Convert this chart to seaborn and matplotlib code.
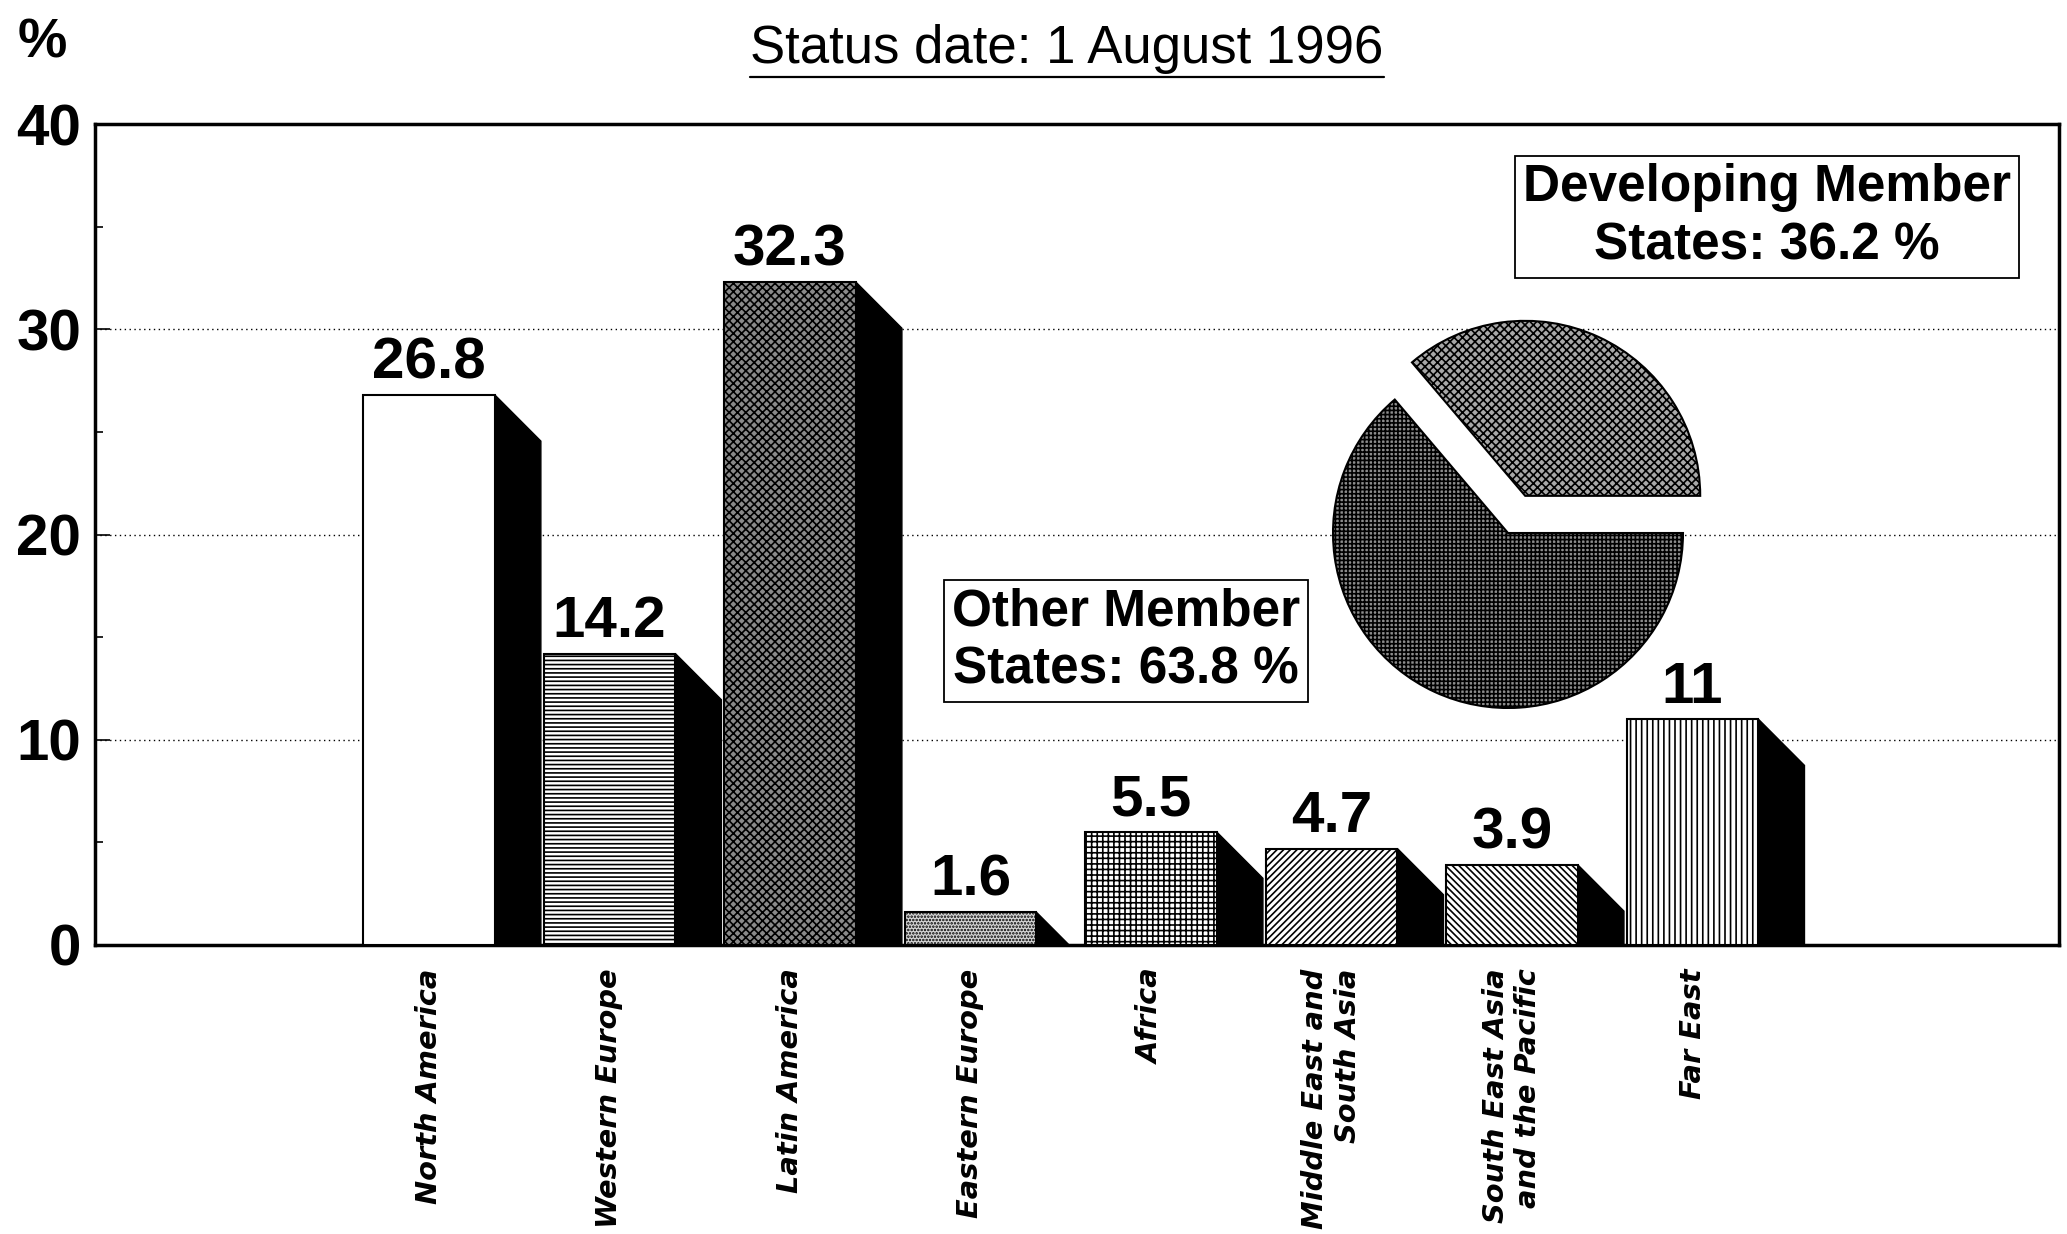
import numpy as np
import pandas as pd
import seaborn as sns
import matplotlib
matplotlib.use("Agg")
import matplotlib.pyplot as plt
from matplotlib.patches import Polygon
from matplotlib.lines import Line2D

# ---------------- data ----------------
regions = ["North America", "Western Europe", "Latin America", "Eastern Europe",
           "Africa", "Middle East and\nSouth Asia", "South East Asia\nand the Pacific",
           "Far East"]
shares = [26.8, 14.2, 32.3, 1.6, 5.5, 4.7, 3.9, 11]
value_labels = ["26.8", "14.2", "32.3", "1.6", "5.5", "4.7", "3.9", "11"]
pie_shares = [36.2, 63.8]
pie_labels = ["Developing Member\nStates: 36.2 %", "Other Member\nStates: 63.8 %"]
yticks = [0, 10, 20, 30, 40]
yminor = [5, 15, 25, 35]
title = "Status date: 1 August 1996"
unit_label = "%"

# ---------------- style ----------------
sns.set_theme(style="white")
plt.rcParams["font.family"] = ["Liberation Sans", "DejaVu Sans"]
plt.rcParams["hatch.linewidth"] = 1.2
plt.rcParams["text.color"] = "black"
plt.rcParams["axes.labelcolor"] = "black"
plt.rcParams["xtick.color"] = "black"
plt.rcParams["ytick.color"] = "black"

bar_faces = ["white", "white", "#8a8a8a", "#d6d6d6", "white", "white", "white", "white"]
bar_hatches = [None, "----", "xxxx", ".....", "+++", "/////", "\\\\\\\\\\", "|||"]
pie_faces = ["#a8a8a8", "#8c8c8c"]
pie_hatches = ["xxxx", "++++"]

W, H = 2067, 1234
fig = plt.figure(figsize=(W / 100, H / 100), dpi=100)
fig.patch.set_facecolor("white")

ax_l, ax_r, ax_t, ax_b = 95, 2059, 124, 945
ax = fig.add_axes([ax_l / W, 1 - ax_b / H, (ax_r - ax_l) / W, (ax_b - ax_t) / H])

df = pd.DataFrame({"region": regions, "share": shares})
sns.barplot(data=df, x="region", y="share", ax=ax, width=0.73, color="white",
            saturation=1, edgecolor="black", linewidth=1.5, zorder=3)

dx, dy = 0.255, 2.25
for p, fc, h_, lab in zip(ax.patches, bar_faces, bar_hatches, value_labels):
    p.set_facecolor(fc)
    p.set_edgecolor("black")
    if h_:
        p.set_hatch(h_)
    x1 = p.get_x() + p.get_width()
    h = p.get_height()
    if h > dy:
        pts = [(x1, h), (x1 + dx, h - dy), (x1 + dx, 0), (x1, 0)]
    else:
        pts = [(x1, h), (x1 + dx * h / dy, 0), (x1, 0)]
    ax.add_patch(Polygon(pts, closed=True, facecolor="black", edgecolor="black",
                         linewidth=1, zorder=2))
    ax.annotate(lab, (p.get_x() + p.get_width() / 2, h), xytext=(0, 3),
                textcoords="offset points", ha="center", va="bottom",
                fontsize=42, fontweight="bold", color="black", zorder=5)

ax.set_xlim(-1.85, 9.03)
ax.set_ylim(0, 40)
ax.set_yticks(yticks)
ax.set_yticklabels([str(v) for v in yticks], fontsize=42, fontweight="bold", color="black")
ax.set_yticks(yminor, minor=True)
ax.tick_params(axis="y", which="major", direction="in", length=11, width=1.2,
               left=True, pad=10, colors="black")
ax.tick_params(axis="y", which="minor", direction="in", length=6, width=1.2, left=True,
               colors="black")
ax.set_xticks(range(len(regions)))
ax.set_xticklabels(regions, rotation=90, fontfamily="DejaVu Sans", fontweight="bold",
                   fontstyle="italic", fontsize=20.8, ha="center", va="top",
                   multialignment="right", color="black")
ax.tick_params(axis="x", length=0, pad=17, colors="black")
ax.set_xlabel("")
ax.set_ylabel("")
ax.yaxis.grid(True, which="major", linestyle=(0, (1, 2.5)), color="black", linewidth=1)
ax.xaxis.grid(False)
ax.set_axisbelow(True)
for s in ax.spines.values():
    s.set_visible(True)
    s.set_color("black")
    s.set_linewidth(2.5)

# ---------------- pie ----------------
cx, cy, r = 1508, 533, 175
half = 1.5 * r
pax = fig.add_axes([(cx - half) / W, 1 - (cy + half) / H, 2 * half / W, 2 * half / H])
wedges, _ = pax.pie(pie_shares, explode=[0.234, 0], startangle=0, counterclock=True,
                    radius=1, wedgeprops=dict(edgecolor="black", linewidth=1.5))
for w, fc, hh in zip(wedges, pie_faces, pie_hatches):
    w.set_facecolor(fc)
    w.set_hatch(hh)
pax.set_xlim(-1.5, 1.5)
pax.set_ylim(-1.5, 1.5)
pax.set_aspect("equal")
pax.axis("off")

# ---------------- boxes ----------------
box = dict(boxstyle="square,pad=0.15", facecolor="white", edgecolor="black", linewidth=1.3)
fig.text(1767 / W, 1 - 217 / H, pie_labels[0], ha="center", va="center", fontsize=37,
         fontweight="bold", bbox=box, linespacing=1.25, color="black")
fig.text(1126 / W, 1 - 641 / H, pie_labels[1], ha="center", va="center", fontsize=37,
         fontweight="bold", bbox=box, linespacing=1.25, color="black")

# ---------------- titles ----------------
fig.text(18 / W, 1 - 44 / H, unit_label, ha="left", va="center", fontsize=40,
         fontweight="bold", color="black")
t = fig.text(1067 / W, 1 - 49 / H, title, ha="center", va="center", fontsize=38,
             color="black")
fig.canvas.draw()
bb = t.get_window_extent(renderer=fig.canvas.get_renderer())
x0 = bb.x0 / W
x1 = bb.x1 / W
fig.add_artist(Line2D([x0, x1], [1 - 77 / H] * 2, color="black", linewidth=1.6,
                      transform=fig.transFigure))

fig.savefig("out.png", dpi=100, facecolor="white")
